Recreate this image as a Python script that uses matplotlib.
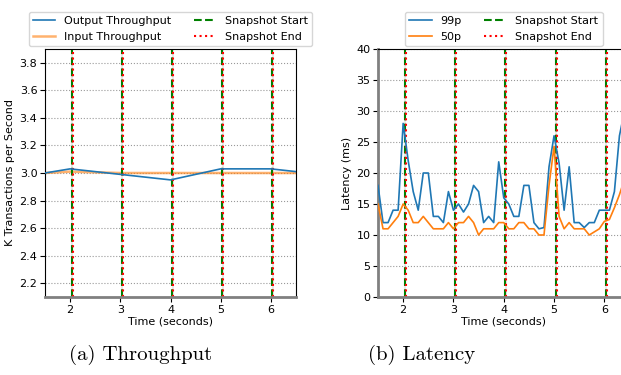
import matplotlib
matplotlib.use("Agg")
import matplotlib.pyplot as plt

# throughput, sampled once per second
tp_time = [1, 2, 3, 4, 5, 6, 7]
output_tp = [2.97, 3.03, 2.99, 2.95, 3.03, 3.03, 2.99]
input_tp = [2.99, 3.01, 3.0, 3.0, 3.0, 3.0, 3.0]

# latency, sampled every 100 ms
lat_time = [1.5 + 0.1 * i for i in range(50)]
p99 = [18, 12, 12, 14, 14, 28, 22, 17, 14, 20,
       20, 13, 13, 12, 17, 14, 15, 13.7, 15, 18,
       17, 12, 13, 12, 21.8, 16, 15, 13, 13, 18,
       18, 12, 11, 11.2, 21, 26, 21.6, 14, 21, 12,
       12, 11.2, 12, 12, 14, 14, 14, 17, 26, 30]
p50 = [15, 11, 11, 12, 13, 15, 14, 12, 12, 13,
       12, 11, 11, 11, 12, 11, 12, 12, 13, 12,
       10, 11, 11, 11, 12, 12, 11, 11, 12, 12,
       11, 11, 10, 10, 18, 24.3, 13, 11, 12, 11,
       11, 11, 10, 10.5, 11, 12.2, 12.5, 14.4, 16.5, 19]

snap_start = [2.03, 3.03, 4.03, 5.03, 6.03]
snap_end = [2.05, 3.05, 4.05, 5.05, 6.05]

plt.rcParams["font.size"] = 8

fig = plt.figure(figsize=(6.21, 3.75), dpi=100)
ax1 = fig.add_axes([45 / 621, 78 / 375, 251 / 621, 248 / 375])
ax2 = fig.add_axes([378 / 621, 78 / 375, 251.5 / 621, 248 / 375])


def snapshots(ax):
    for s, e in zip(snap_start, snap_end):
        ax.axvspan(s - 0.01, e + 0.01, color="lightgray", alpha=0.5, lw=0)
    for i, (s, e) in enumerate(zip(snap_start, snap_end)):
        ax.axvline(s, color="g", linestyle="--", lw=1.5,
                   label="Snapshot Start" if i == 0 else None)
        ax.axvline(e, color="r", linestyle=":", lw=1.5,
                   label="Snapshot End" if i == 0 else None)


def style(ax):
    ax.yaxis.grid(True, color="gray", linestyle=":", lw=0.8, alpha=0.8)
    ax.set_axisbelow(True)
    ax.set_xticks([2, 3, 4, 5, 6])
    ax.set_xlabel("Time (seconds)", labelpad=1)
    ax.tick_params(length=3.5, pad=2)
    ax.legend(loc="lower center", bbox_to_anchor=(0.5, 1.0), ncol=2,
              borderaxespad=0.25, fontsize=8)


# (a) throughput
ax1.plot(tp_time, output_tp, color="tab:blue", lw=1.2, label="Output Throughput", zorder=3)
ax1.plot(tp_time, input_tp, color="tab:orange", lw=1.8, alpha=0.6, label="Input Throughput", zorder=2)
snapshots(ax1)
ax1.set_xlim(1.5, 6.5)
ax1.set_ylim(2.1, 3.9)
ax1.set_yticks([2.2, 2.4, 2.6, 2.8, 3.0, 3.2, 3.4, 3.6, 3.8])
ax1.set_ylabel("K Transactions per Second", labelpad=3)
style(ax1)
ax1.spines["bottom"].set_color("gray")
ax1.spines["bottom"].set_linewidth(2)

# (b) latency
ax2.plot(lat_time, p99, color="tab:blue", lw=1.2, label="99p", zorder=3)
ax2.plot(lat_time, p50, color="tab:orange", lw=1.2, label="50p", zorder=3)
snapshots(ax2)
ax2.set_xlim(1.5, 6.5)
ax2.set_ylim(0, 40)
ax2.set_yticks(range(0, 41, 5))
ax2.set_ylabel("Latency (ms)", labelpad=3)
style(ax2)
for side in ("left", "bottom"):
    ax2.spines[side].set_color("gray")
    ax2.spines[side].set_linewidth(2)

fig.text(141 / 621, 20 / 375, "(a) Throughput", ha="center", va="center",
         family="cmr10", fontsize=15)
fig.text(421.5 / 621, 20 / 375, "(b) Latency", ha="center", va="center",
         family="cmr10", fontsize=15)

fig.savefig("out.png", dpi=100)
